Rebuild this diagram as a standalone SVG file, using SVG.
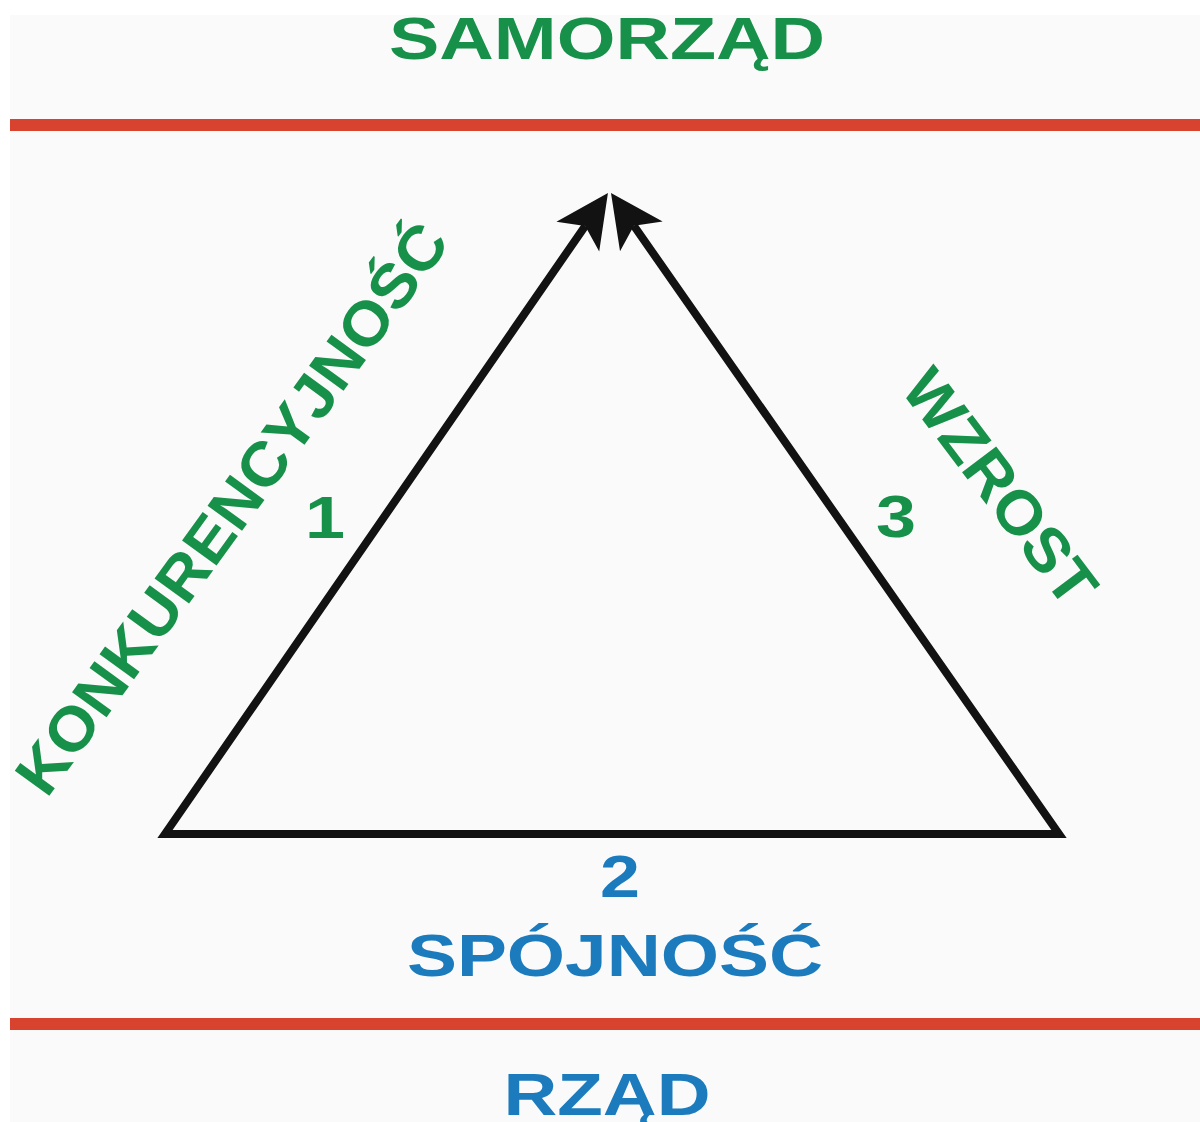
<svg xmlns="http://www.w3.org/2000/svg" width="1200" height="1122" viewBox="0 0 1200 1122">
  <style>
    .lbl { font-family: "Liberation Sans", Arial, sans-serif; font-weight: bold; font-size: 60px; }
    .rot { font-size: 62px; }
    .green { fill: #17914a; }
    .blue { fill: #1b7bbd; }
    .band { fill: #d8432f; }
    .edge { fill: none; stroke: #121212; stroke-width: 8; stroke-linejoin: miter; stroke-miterlimit: 10; }
  </style>
  <defs>
    <marker id="barb" markerUnits="userSpaceOnUse" orient="auto-start-reverse" refX="0" refY="0" markerWidth="120" markerHeight="120" viewBox="-60 -60 120 120" overflow="visible">
      <path d="M40,0 L-13,-26 L0,0 L-13,26 Z" fill="#121212"/>
    </marker>
  </defs>

  <rect x="0" y="0" width="1200" height="1122" fill="#ffffff"/>
  <rect x="10" y="15" width="1190" height="1107" fill="#fafafa"/>

  <g id="top-band">
    <rect class="band" x="10" y="119" width="1190" height="12"/>
  </g>
  <g id="bottom-band">
    <rect class="band" x="10" y="1018" width="1190" height="12"/>
  </g>

  <g id="connectors">
    <path class="edge" d="M585.2,225.9 L165,834 L1059,834 L633.9,225.8" marker-start="url(#barb)" marker-end="url(#barb)"/>
  </g>

  <g id="samorzad">
    <text class="lbl green" x="607" y="59" text-anchor="middle" textLength="436" lengthAdjust="spacingAndGlyphs">SAMORZĄD</text>
  </g>

  <g id="konkurencyjnosc">
    <text class="lbl rot green" transform="translate(249,521) rotate(-54)" x="0" y="0" text-anchor="middle" textLength="688" lengthAdjust="spacingAndGlyphs">KONKURENCYJNOŚĆ</text>
  </g>

  <g id="num-1">
    <text class="lbl green" x="325" y="538" text-anchor="middle" textLength="40" lengthAdjust="spacingAndGlyphs">1</text>
  </g>

  <g id="wzrost">
    <text class="lbl rot green" transform="translate(983,500) rotate(53)" x="0" y="0" text-anchor="middle" textLength="278" lengthAdjust="spacingAndGlyphs">WZROST</text>
  </g>

  <g id="num-3">
    <text class="lbl green" x="896" y="537" text-anchor="middle" textLength="40" lengthAdjust="spacingAndGlyphs">3</text>
  </g>

  <g id="num-2">
    <text class="lbl blue" x="620" y="897" text-anchor="middle" textLength="40" lengthAdjust="spacingAndGlyphs">2</text>
  </g>

  <g id="spojnosc">
    <text class="lbl blue" x="615" y="976" text-anchor="middle" textLength="416" lengthAdjust="spacingAndGlyphs">SPÓJNOŚĆ</text>
  </g>

  <g id="rzad">
    <text class="lbl blue" x="607" y="1115" text-anchor="middle" textLength="207" lengthAdjust="spacingAndGlyphs">RZĄD</text>
  </g>
</svg>
